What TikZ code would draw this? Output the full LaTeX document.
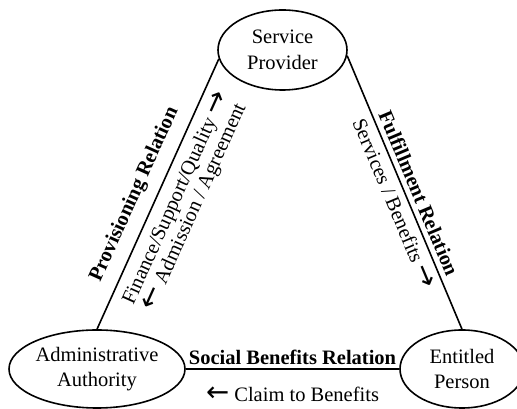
\documentclass[tikz,border=0pt]{standalone}
\usepackage{fontspec}
\setmainfont{Liberation Serif}
\newfontfamily\arw{DejaVu Sans}[Scale=1.35]
\usetikzlibrary{shapes.geometric,calc}
\begin{document}
\begin{tikzpicture}[x=1pt,y=1pt,
  party/.style={ellipse, draw, line width=1.6pt, inner sep=0pt, align=center,
    font=\fontsize{20.5}{25.5}\selectfont},
  rel/.style={line width=1.6pt},
  lbl/.style={inner sep=0pt, align=center, font=\fontsize{20.5}{21}\selectfont},
  blbl/.style={inner sep=0pt, align=center, font=\fontsize{20.5}{21}\selectfont\bfseries}]
\useasboundingbox (0,0) rectangle (517,409);
\node[party, minimum width=129pt, minimum height=80pt] (sp) at (282.5,359) {Service\\Provider};
\node[party, minimum width=176pt, minimum height=78pt] (aa) at (97,40) {Administrative\\Authority};
\node[party, minimum width=124pt, minimum height=78pt] (ep) at (462,40) {Entitled\\Person};
\draw[rel] (sp.188) -- (aa.north)
  node[pos=0.5, sloped, blbl, yshift=21pt, xshift=-10pt] {Provisioning Relation}
  node[pos=0.5, sloped, lbl, yshift=-29pt, xshift=3.5pt] {Finance/Support/Quality {\arw →}\\{\arw ←} Admission / Agreement};
\draw[rel] (sp.355) -- (ep.north)
  node[pos=0.5, sloped, blbl, yshift=13pt, xshift=6pt] {Fulfillment Relation}
  node[pos=0.5, sloped, lbl, yshift=-14pt, xshift=6pt] {Services / Benefits {\arw →}};
\draw[rel] (aa.east) -- (ep.west)
  node[midway, blbl, yshift=11.5pt] {Social Benefits Relation}
  node[midway, lbl, yshift=-25pt] {{\arw ←} Claim to Benefits};
\end{tikzpicture}
\end{document}
